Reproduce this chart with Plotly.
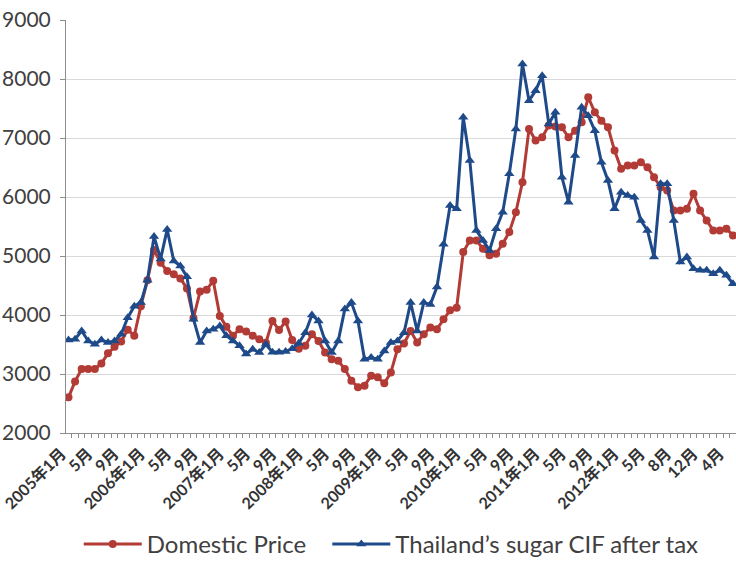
import plotly.graph_objects as go

# Monthly index (2005-01 onward, categorical positions)
domestic_price = [2605, 2875, 3084, 3084, 3084, 3180, 3350, 3460, 3550, 3750,
                  3650, 4150, 4590, 5100, 4885, 4745, 4690, 4620, 4450, 3950,
                  4400, 4430, 4580, 3985, 3800, 3650, 3760, 3720, 3650, 3590,
                  3530, 3900, 3745, 3890, 3575, 3430, 3480, 3675, 3560, 3365,
                  3250, 3225, 3085, 2887, 2774, 2802, 2972, 2943, 2842, 3027,
                  3420, 3517, 3730, 3535, 3675, 3788, 3760, 3930, 4082, 4125,
                  5066, 5264, 5264, 5124, 5011, 5040, 5208, 5405, 5743, 6250,
                  7154, 6956, 7012, 7210, 7193, 7181, 7012, 7125, 7266, 7689,
                  7435, 7294, 7181, 6787, 6477, 6533, 6533, 6589, 6504, 6335,
                  6166, 6110, 5772, 5772, 5800, 6054, 5772, 5602, 5433, 5433,
                  5462, 5349]

thai_cif = [3575, 3590, 3730, 3560, 3505, 3575, 3535, 3560, 3675, 3955,
            4150, 4210, 4590, 5330, 4950, 5450, 4915, 4830, 4650, 3930,
            3535, 3730, 3760, 3815, 3650, 3560, 3480, 3340, 3420, 3365,
            3505, 3370, 3370, 3380, 3430, 3520, 3700, 4000, 3900, 3560,
            3365, 3560, 4100, 4210, 3900, 3250, 3280, 3250, 3390, 3535,
            3560, 3700, 4210, 3730, 4210, 4180, 4474, 5200, 5855, 5800,
            7350, 6617, 5433, 5264, 5095, 5462, 5743, 6393, 7154, 8254,
            7633, 7802, 8056, 7239, 7435, 6335, 5912, 6702, 7520, 7379,
            7125, 6589, 6279, 5800, 6082, 6025, 5997, 5602, 5433, 4982,
            6223, 6223, 5602, 4897, 4982, 4785, 4757, 4757, 4700, 4757,
            4672, 4530]

tick_labels = ["2005年1月", "5月", "9月", "2006年1月", "5月", "9月",
               "2007年1月", "5月", "9月", "2008年1月", "5月", "9月",
               "2009年1月", "5月", "9月", "2010年1月", "5月", "9月",
               "2011年1月", "5月", "9月", "2012年1月", "5月", "8月",
               "12月", "4月"]
label_step = 4

x = list(range(len(domestic_price)))
tickvals = [i * label_step for i in range(len(tick_labels))]

FONT = "Lato, 'Noto Sans CJK SC', sans-serif"
RED = "#B23B36"
BLUE = "#1F4A8A"

fig = go.Figure()
fig.add_trace(go.Scatter(
    x=x, y=domestic_price, name="Domestic Price", mode="lines+markers",
    line=dict(color=RED, width=3),
    marker=dict(symbol="circle", size=8, color=RED),
    legend="legend",
))
fig.add_trace(go.Scatter(
    x=x, y=thai_cif, name="Thailand\u2019s sugar CIF after tax", mode="lines+markers",
    line=dict(color=BLUE, width=3),
    marker=dict(symbol="triangle-up", size=9, color=BLUE),
    legend="legend2",
))

legend_common = dict(orientation="h", xanchor="left", y=-0.27, yanchor="middle",
                     font=dict(size=24, color="#404040", family=FONT),
                     itemwidth=58, bgcolor="rgba(0,0,0,0)")

fig.update_layout(
    width=736, height=562,
    margin=dict(l=66, r=0, t=20, b=129, autoexpand=False),
    paper_bgcolor="white", plot_bgcolor="white",
    font=dict(family=FONT, color="#404040"),
    showlegend=True,
    legend=dict(x=0.019, **legend_common),
    legend2=dict(x=0.39, **legend_common),
)

fig.update_xaxes(
    automargin=False,
    range=[-0.38, 101.46],
    tickmode="array", tickvals=tickvals, ticktext=tick_labels,
    tickangle=-45, tickfont=dict(size=16, color="#333333", family=FONT, weight="bold"),
    ticks="outside", ticklen=4, tickcolor="rgba(0,0,0,0)",
    ticklabelshift=-7,
    showline=True, linecolor="#8c8c8c", linewidth=1,
    showgrid=False, zeroline=False,
    minor=dict(tickmode="linear", tick0=-0.5, dtick=1, ticks="outside",
               ticklen=4, tickcolor="#8c8c8c", showgrid=False),
)
fig.update_yaxes(
    automargin=False,
    range=[2000, 9000], dtick=1000, tick0=2000,
    tickfont=dict(size=21, color="#404040", family=FONT),
    ticks="outside", ticklen=5, tickcolor="#8c8c8c",
    ticklabelstandoff=5,
    showline=True, linecolor="#8c8c8c", linewidth=1,
    showgrid=True, gridcolor="#d9d9d9", gridwidth=1.3, zeroline=False,
)

fig.write_html("out.html", config={"displayModeBar": False},
               post_script="document.body.style.margin='0';")
